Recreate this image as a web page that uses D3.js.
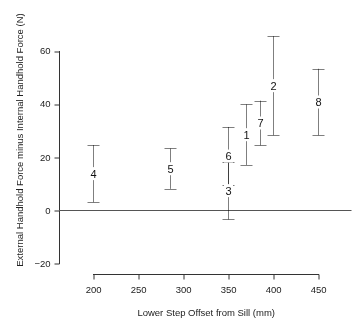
<!DOCTYPE html>
<html>
<head>
<meta charset="utf-8">
<script src="https://cdn.jsdelivr.net/npm/d3@7"></script>
<style>
  html, body { margin: 0; padding: 0; background: #fff; }
  svg { display: block; font-family: "Liberation Sans", Arial, Helvetica, sans-serif; will-change: transform; }
</style>
</head>
<body>
<svg id="chart" width="363" height="325"></svg>
<script>
// Interval of handhold force difference for each configuration
const labels  = ["1", "2", "3", "4", "5", "6", "7", "8"];
const offsets = [370, 400, 350, 200, 285, 350, 385, 450];
const lower   = [17.0, 28.2, -3.5, 3.0, 8.0, 9.4, 24.4, 28.2];
const upper   = [39.8, 65.5, 18.2, 24.5, 23.2, 31.3, 41.2, 53.2];

const xTicks = [200, 250, 300, 350, 400, 450];
const yTicks = [-20, 0, 20, 40, 60];

const xTitle = "Lower Step Offset from Sill (mm)";
const yTitle = "External Handhold Force minus Internal Handhold Force (N)";

const svg = d3.select("#chart");

const x = d3.scaleLinear().domain([162, 487]).range([59, 351.5]);
const y = d3.scaleLinear().domain([-20, 60]).range([263.3, 50.7]);

const crisp = v => Math.round(v) + 0.5;
const ink = "#333";
const textInk = "#222";
const fontSize = 9.5;

// x axis (line only spans the tick range)
const xAxisY = 274;
const gx = svg.append("g")
  .attr("transform", `translate(0,${xAxisY + 0.5})`)
  .call(d3.axisBottom(x).tickValues(xTicks).tickSize(5).tickSizeOuter(0).tickFormat(d3.format("d")));
gx.select(".domain").remove();
gx.append("line")
  .attr("x1", crisp(x(xTicks[0])) - 0.5).attr("x2", crisp(x(xTicks[xTicks.length - 1])) + 0.5)
  .attr("stroke", ink);
gx.selectAll(".tick line").attr("stroke", ink)
  .attr("transform", d => `translate(${crisp(x(d)) - x(d)},0)`);
gx.selectAll(".tick text").attr("font-size", fontSize).attr("fill", textInk).attr("y", 12)
  .attr("font-family", "Liberation Sans, Arial, sans-serif");

// y axis
const yAxisX = 59;
const gy = svg.append("g")
  .attr("transform", `translate(${yAxisX + 0.5},0)`)
  .call(d3.axisLeft(y).tickValues(yTicks).tickSize(5).tickSizeOuter(0));
gy.select(".domain").remove();
gy.append("line")
  .attr("y1", crisp(y(yTicks[yTicks.length - 1])) - 0.5).attr("y2", crisp(y(yTicks[0])) + 0.5)
  .attr("stroke", ink);
gy.selectAll(".tick line").attr("stroke", ink)
  .attr("transform", d => `translate(0,${crisp(y(d)) - y(d)})`);
gy.selectAll(".tick text").attr("font-size", fontSize).attr("fill", textInk).attr("x", -9)
  .attr("font-family", "Liberation Sans, Arial, sans-serif");

// axis titles
svg.append("text")
  .attr("x", (x(xTicks[0]) + x(xTicks[xTicks.length - 1])) / 2 + 0.5)
  .attr("y", 316)
  .attr("text-anchor", "middle")
  .attr("font-size", fontSize)
  .attr("fill", textInk)
  .text(xTitle);

svg.append("text")
  .attr("transform", `translate(23,140) rotate(-90)`)
  .attr("text-anchor", "middle")
  .attr("font-size", fontSize)
  .attr("fill", textInk)
  .text(yTitle);

// reference line at zero
svg.append("line")
  .attr("x1", x.range()[0]).attr("x2", x.range()[1])
  .attr("y1", crisp(y(0))).attr("y2", crisp(y(0)))
  .attr("stroke", "#555");

// error bars
const rows = labels.map((l, i) => ({ label: l, x: offsets[i], lo: lower[i], hi: upper[i] }));
const capHalf = 6;
const barColor = "rgba(0,0,0,0.5)";

const bars = svg.append("g").selectAll("g").data(rows).join("g");
bars.append("line")
  .attr("x1", d => crisp(x(d.x))).attr("x2", d => crisp(x(d.x)))
  .attr("y1", d => y(d.hi)).attr("y2", d => y(d.lo))
  .attr("stroke", barColor);
bars.append("line")
  .attr("x1", d => crisp(x(d.x)) - capHalf).attr("x2", d => crisp(x(d.x)) + capHalf)
  .attr("y1", d => crisp(y(d.hi))).attr("y2", d => crisp(y(d.hi)))
  .attr("stroke", barColor);
bars.append("line")
  .attr("x1", d => crisp(x(d.x)) - capHalf).attr("x2", d => crisp(x(d.x)) + capHalf)
  .attr("y1", d => crisp(y(d.lo))).attr("y2", d => crisp(y(d.lo)))
  .attr("stroke", barColor);

// labels at the midpoint of each interval, on a white patch
const lab = svg.append("g").selectAll("g").data(rows).join("g")
  .attr("transform", d => `translate(${crisp(x(d.x))},${y((d.lo + d.hi) / 2)})`);
lab.append("rect")
  .attr("x", -4.5).attr("y", -6.5).attr("width", 9).attr("height", 13)
  .attr("fill", "#fff");
lab.append("text")
  .attr("text-anchor", "middle")
  .attr("dy", "0.36em")
  .attr("font-size", 11)
  .attr("fill", "#111")
  .text(d => d.label);
</script>
</body>
</html>
